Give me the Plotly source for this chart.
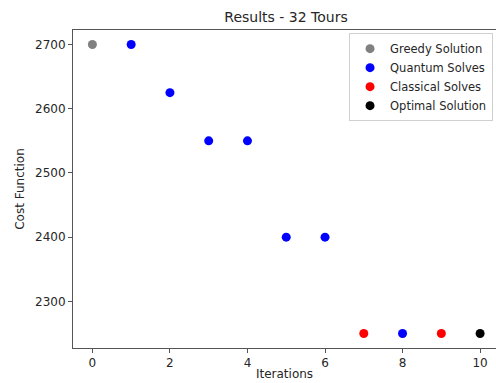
import plotly.graph_objects as go

greedy_x = [0]
greedy_y = [2700]
quantum_x = [1, 2, 3, 4, 5, 6, 8]
quantum_y = [2700, 2625, 2550, 2550, 2400, 2400, 2250]
classical_x = [7, 9]
classical_y = [2250, 2250]
optimal_x = [10]
optimal_y = [2250]

series = [
    ("Greedy Solution", greedy_x, greedy_y, "gray"),
    ("Quantum Solves", quantum_x, quantum_y, "blue"),
    ("Classical Solves", classical_x, classical_y, "red"),
    ("Optimal Solution", optimal_x, optimal_y, "black"),
]

fig = go.Figure()
for name, xs, ys, col in series:
    fig.add_trace(go.Scatter(x=xs, y=ys, mode="markers", name=name,
                             marker=dict(color=col, size=9, line=dict(width=0))))

font = "DejaVu Sans"
fig.update_layout(
    width=496, height=383,
    margin=dict(l=73, r=0, t=30, b=35),
    paper_bgcolor="white", plot_bgcolor="white",
    font=dict(family=font, size=12, color="#262626"),
    title=dict(text="Results - 32 Tours", x=286 / 496, xanchor="center",
               y=1 - 17 / 383, yanchor="middle", font=dict(size=14, color="#262626")),
    showlegend=True,
    legend=dict(x=0.993, xanchor="right", y=0.99, yanchor="top",
                bgcolor="white", bordercolor="#d0d0d0", borderwidth=1,
                font=dict(size=11.5, color="#262626"), itemwidth=30,
                tracegroupgap=0),
)
fig.update_xaxes(range=[-0.5, 10.41], tickvals=[0, 2, 4, 6, 8, 10],
                 showgrid=False, zeroline=False, showline=True, linecolor="#555",
                 linewidth=1, mirror=True, ticks="outside", ticklen=4, tickcolor="#555",
                 tickfont=dict(size=12), automargin=False,
                 title=dict(text="Iterations", font=dict(size=12), standoff=0))
fig.update_yaxes(range=[2227.5, 2722.5], tickvals=[2300, 2400, 2500, 2600, 2700],
                 showgrid=False, zeroline=False, showline=True, linecolor="#555",
                 linewidth=1, mirror=False, ticks="outside", ticklen=4, tickcolor="#555",
                 tickfont=dict(size=12), automargin=False,
                 title=dict(text="Cost Function", font=dict(size=12), standoff=7))

fig.write_html("out.html", config={"displayModeBar": False},
               post_script="document.body.style.margin='0';")
